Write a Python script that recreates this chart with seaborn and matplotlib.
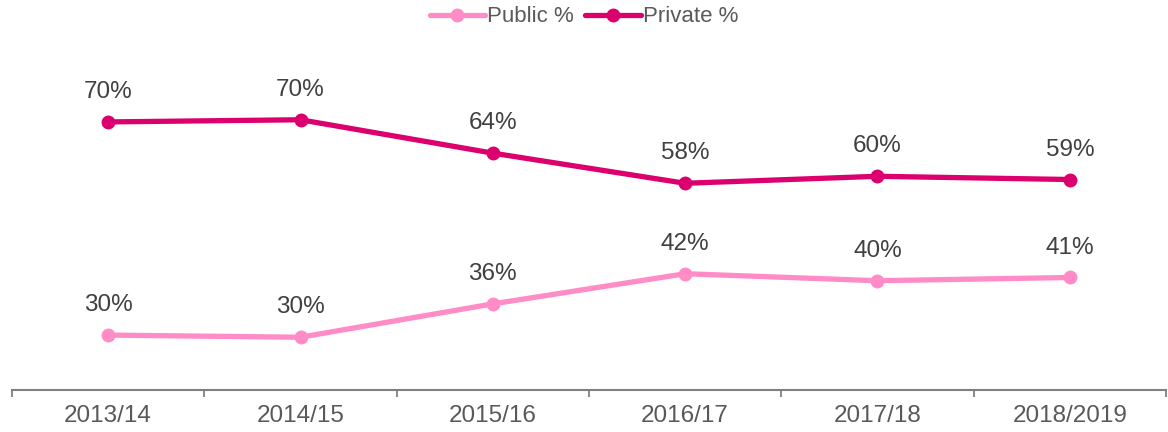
import matplotlib
matplotlib.use("Agg")
import matplotlib.pyplot as plt
import seaborn as sns
import pandas as pd
import numpy as np

years = ["2013/14", "2014/15", "2015/16", "2016/17", "2017/18", "2018/2019"]
public_pct = [30.2, 29.8, 36.0, 41.6, 40.3, 40.9]
private_pct = [69.8, 70.2, 64.0, 58.4, 59.7, 59.1]

sns.set_theme(style="white")
plt.rcParams['font.family'] = ['Liberation Sans', 'DejaVu Sans']

text_color = "#595959"
pub_color = "#FF8CC6"
priv_color = "#DC006E"

fig = plt.figure(figsize=(11.68, 4.32), dpi=100)
ax = fig.add_axes([12/1168, 1 - 390/432, 1154/1168, 323/432])

x = np.arange(len(years))
df = pd.DataFrame({"x": x, "Public %": public_pct, "Private %": private_pct})

for col, color in [("Public %", pub_color), ("Private %", priv_color)]:
    sns.lineplot(data=df, x="x", y=col, ax=ax, color=color, linewidth=3.8,
                 marker="o", markersize=10, markeredgewidth=0, label=col)
    for xi, v in zip(x, df[col]):
        ax.annotate(f"{round(v)}%", (xi, v), xytext=(0, 21.5), textcoords="offset points",
                    ha="center", va="center", fontsize=17.5, color="#404040")

ax.set_xlim(-0.5, len(years) - 0.5)
ax.set_ylim(20, 80)
ax.set_xlabel("")
ax.set_ylabel("")
ax.set_yticks([])
ax.set_xticks(x)
ax.set_xticklabels(years, fontsize=17.5, color=text_color)
ax.set_xticks(np.arange(-0.5, len(years)), minor=True)
ax.tick_params(axis="x", which="major", length=0, pad=11)
ax.tick_params(axis="x", which="minor", length=5, width=1.3, color="#808080", direction="out", bottom=True)

for s in ["top", "right", "left"]:
    ax.spines[s].set_visible(False)
ax.spines["bottom"].set_color("#808080")
ax.spines["bottom"].set_linewidth(1.5)

leg = ax.legend(loc="center", bbox_to_anchor=(0.5, (432 - 17) / 432), bbox_transform=fig.transFigure,
                ncol=2, frameon=False, fontsize=16, handlelength=2.5, handletextpad=0.1,
                columnspacing=0.5)
for t in leg.get_texts():
    t.set_color(text_color)

fig.savefig("out.png", dpi=100)
